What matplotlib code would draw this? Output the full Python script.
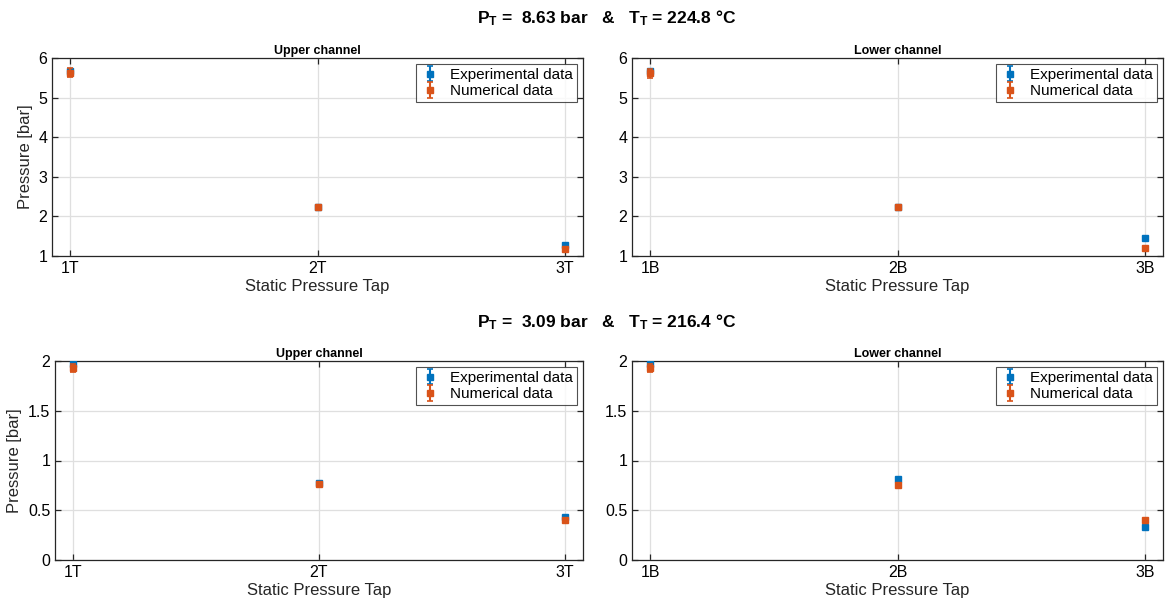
import matplotlib
matplotlib.use("Agg")
import matplotlib.pyplot as plt

plt.rcParams["font.family"] = ["Liberation Sans", "DejaVu Sans"]
plt.rcParams["mathtext.fontset"] = "custom"
plt.rcParams["mathtext.rm"] = "Liberation Sans"
plt.rcParams["mathtext.bf"] = "Liberation Sans:bold"

BLUE, ORANGE, AX = "#0072BD", "#D95319", "#262626"

# --- data ---
taps_upper = ["1T", "2T", "3T"]
taps_lower = ["1B", "2B", "3B"]

hi_upper_exp = [5.67, 2.24, 1.29]
hi_upper_num = [5.63, 2.23, 1.18]
hi_lower_exp = [5.67, 2.25, 1.45]
hi_lower_num = [5.61, 2.23, 1.20]

lo_upper_exp = [1.97, 0.77, 0.43]
lo_upper_num = [1.93, 0.76, 0.40]
lo_lower_exp = [1.97, 0.81, 0.33]
lo_lower_num = [1.93, 0.75, 0.40]

exp_err = 0.012   # bar, measurement uncertainty
num_rel = 0.02    # relative band of numerical results

titles = ["$\\mathbf{P_T}$ =  8.63 bar   &   $\\mathbf{T_T}$ = 224.8 °C",
          "$\\mathbf{P_T}$ =  3.09 bar   &   $\\mathbf{T_T}$ = 216.4 °C"]

W, H = 1169, 605
fig = plt.figure(figsize=(W / 100, H / 100), dpi=100)
fig.patch.set_facecolor("white")


def box(x0, y0, x1, y1):
    return [x0 / W, 1 - y1 / H, (x1 - x0) / W, (y1 - y0) / H]


def panel(rect, taps, exp, num, ylim, yticks, title, ylabel):
    ax = fig.add_axes(rect)
    xs = [1, 2, 3]
    ax.errorbar(xs, exp, yerr=exp_err, fmt="s", ms=4.5, color=BLUE,
                elinewidth=1.5, capsize=2, capthick=1.2, label="Experimental data", zorder=3)
    ax.errorbar(xs, num, yerr=[v * num_rel for v in num], fmt="s", ms=4.5, color=ORANGE,
                elinewidth=1.5, capsize=2, capthick=1.2, label="Numerical data", zorder=4)
    ax.set_xlim(0.927, 3.073)
    ax.set_ylim(*ylim)
    ax.set_xticks(xs)
    ax.set_xticklabels(taps)
    ax.set_yticks(yticks)
    ax.set_yticklabels([f"{t:g}" for t in yticks])
    ax.grid(True, color="#dfdfdf", lw=0.9)
    ax.set_axisbelow(True)
    for sp in ax.spines.values():
        sp.set_color(AX)
        sp.set_linewidth(0.9)
    ax.tick_params(direction="in", length=4, width=0.9, colors=AX, labelsize=11.5,
                   top=True, right=True, labelcolor="black")
    ax.set_title(title, fontsize=9, fontweight="bold", pad=3)
    ax.set_xlabel("Static Pressure Tap", fontsize=12, labelpad=2, color=AX)
    if ylabel:
        ax.set_ylabel("Pressure [bar]", fontsize=12, labelpad=4, color=AX)
    leg = ax.legend(loc="upper right", fontsize=11, frameon=True, fancybox=False,
                    borderpad=0.25, handletextpad=0.6, handlelength=1.4,
                    labelspacing=0.15, borderaxespad=0.4)
    leg.get_frame().set_edgecolor(AX)
    leg.get_frame().set_linewidth(0.8)
    return ax


top_ticks = [1, 2, 3, 4, 5, 6]
bot_ticks = [0, 0.5, 1, 1.5, 2]
panel(box(52, 58, 583, 256), taps_upper, hi_upper_exp, hi_upper_num, (1, 6), top_ticks,
      "Upper channel", True)
panel(box(632, 58, 1163, 256), taps_lower, hi_lower_exp, hi_lower_num, (1, 6), top_ticks,
      "Lower channel", False)
panel(box(55, 361, 583, 560), taps_upper, lo_upper_exp, lo_upper_num, (0, 2), bot_ticks,
      "Upper channel", True)
panel(box(632, 361, 1163, 560), taps_lower, lo_lower_exp, lo_lower_num, (0, 2), bot_ticks,
      "Lower channel", False)

fig.text(607 / W, 1 - 18 / H, titles[0], ha="center", va="center", fontsize=12.5, fontweight="bold")
fig.text(607 / W, 1 - 322 / H, titles[1], ha="center", va="center", fontsize=12.5, fontweight="bold")

fig.savefig("out.png", dpi=100, facecolor="white")
